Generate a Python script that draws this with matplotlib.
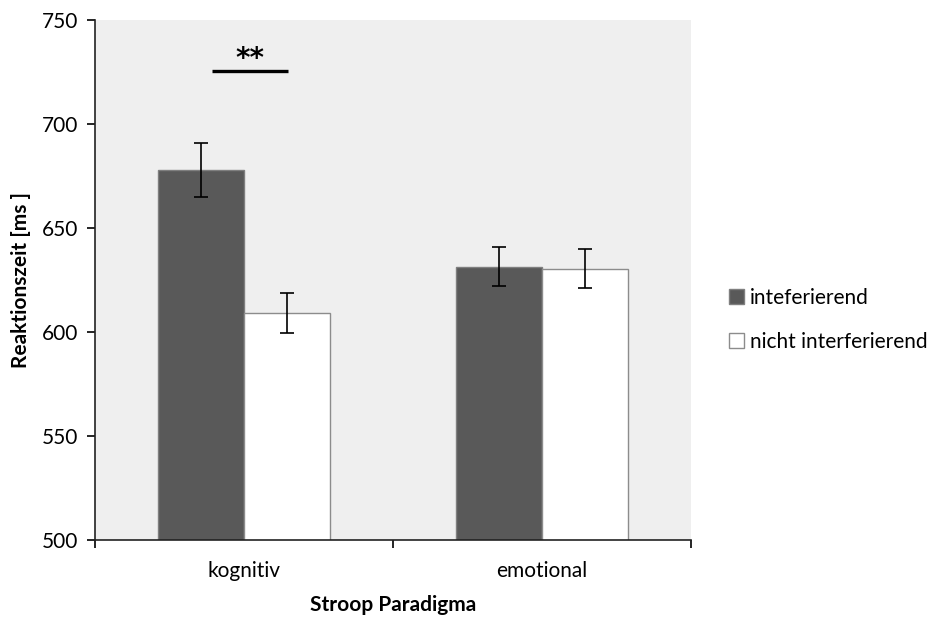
import numpy as np
import matplotlib
matplotlib.use("Agg")
import matplotlib.pyplot as plt

plt.rcParams['font.family'] = ['Lato', 'DejaVu Sans']

# data
categories = ['kognitiv', 'emotional']
labels = ['inteferierend', 'nicht interferierend']
interf = [677.9, 631.3]
interf_err = [13.0, 9.5]
nicht = [609.0, 630.3]
nicht_err = [9.5, 9.5]

fig = plt.figure(figsize=(9.32, 6.19), dpi=100)
ax = fig.add_axes([95/932, 1-540/619, 596/932, 520.5/619])
ax.set_facecolor('#efefef')

x = np.arange(len(categories))
w = 0.287
err_kw = dict(ecolor='black', elinewidth=1.2, capsize=5, capthick=1.2)
b1 = ax.bar(x - w/2, interf, w, yerr=interf_err, color='#595959', edgecolor='#7f7f7f',
            linewidth=1, error_kw=err_kw, label=labels[0], zorder=2)
b2 = ax.bar(x + w/2, nicht, w, yerr=nicht_err, color='white', edgecolor='#8c8c8c',
            linewidth=1, error_kw=err_kw, label=labels[1], zorder=2)

ax.set_ylim(500, 750)
ax.set_xlim(-0.5, 1.5)
ax.set_yticks(np.arange(500, 751, 50))
ax.set_xticks(x)
ax.set_xticklabels(categories)
ax.set_xticks([-0.5, 0.5, 1.5], minor=True)
ax.tick_params(axis='x', which='major', length=0, pad=15, labelsize=15)
ax.tick_params(axis='x', which='minor', length=6, width=1.2, direction='out')
ax.tick_params(axis='y', length=6, width=1.2, direction='out', labelsize=15, pad=6)

for s in ['top', 'right']:
    ax.spines[s].set_visible(False)
for s in ['left', 'bottom']:
    ax.spines[s].set_linewidth(1.2)
    ax.spines[s].set_color('#222222')

ax.set_ylabel('Reaktionszeit [ms ]', fontsize=15, fontweight='bold', labelpad=8)
ax.set_xlabel('Stroop Paradigma', fontsize=15, fontweight='bold', labelpad=10)

# significance marker
ax.plot([-0.107, 0.148], [725.5, 725.5], color='black', linewidth=2.4, solid_capstyle='butt', zorder=3)
ax.text(0.02, 731, '**', ha='center', va='center', fontsize=20, fontweight='bold',
        family='DejaVu Sans')

leg = ax.legend(handles=[b1, b2], labels=labels, loc='center left',
                bbox_to_anchor=(721/932, 1 - 320/619), bbox_transform=fig.transFigure,
                frameon=False, fontsize=15, handlelength=0.7, handleheight=0.7,
                handletextpad=0.3, labelspacing=1.15, borderaxespad=0)

fig.savefig('out.png', dpi=100)
